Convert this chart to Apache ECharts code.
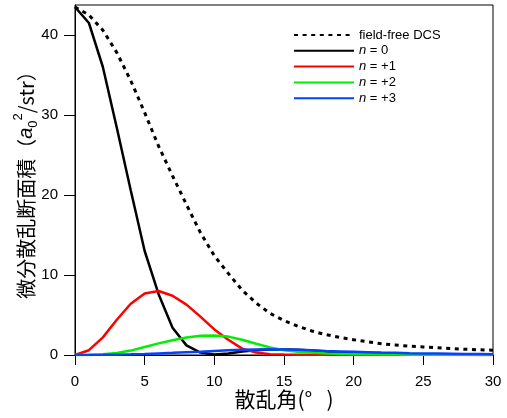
<!DOCTYPE html>
<html>
<head>
<meta charset="utf-8">
<script src="https://cdn.jsdelivr.net/npm/echarts@6/dist/echarts.min.js"></script>
<style>
html,body{margin:0;padding:0;background:#fff;}
#c{width:507px;height:418px;}
</style>
</head>
<body>
<div id="c"></div>
<script>
// Scattering angle (degrees)
const angles = [0,1,2,3,4,5,6,7,8,9,10,11,12,13,14,15,16,17,18,19,20,21,22,23,24,25,26,27,28,29,30];
// Differential cross sections (a0^2/str)
const fieldFree = [43.5,42.5,40.6,37.8,34.3,30.3,26.1,22.4,18.8,15.3,12.4,10.2,8.1,6.5,5.2,4.3,3.6,3.0,2.55,2.2,1.9,1.65,1.4,1.25,1.1,1.0,0.9,0.8,0.72,0.65,0.6];
const n0 = [43.5,41.5,36.0,28.4,20.6,13.0,7.6,3.4,1.2,0.3,0.05,0.2,0.45,0.6,0.7,0.7,0.65,0.55,0.45,0.35,0.25,0.2,0.15,0.1,0.08,0.05,0.04,0.03,0.02,0.01,0.0];
const n1 = [0.0,0.6,2.2,4.4,6.4,7.7,8.0,7.4,6.3,4.8,3.2,1.9,0.8,0.3,0.1,0.05,0.03,0.02,0.02,0.01,0.01,0.01,0.01,0.0,0.0,0.0,0.0,0.0,0.0,0.0,0.0];
const n2 = [0.0,0.02,0.1,0.25,0.55,1.0,1.45,1.85,2.2,2.4,2.45,2.3,1.9,1.4,0.95,0.6,0.4,0.3,0.2,0.15,0.1,0.08,0.06,0.05,0.04,0.03,0.03,0.02,0.02,0.02,0.02];
const n3 = [0.0,0.01,0.02,0.04,0.08,0.13,0.2,0.27,0.35,0.42,0.5,0.58,0.65,0.7,0.72,0.7,0.65,0.58,0.5,0.45,0.4,0.35,0.3,0.27,0.23,0.2,0.18,0.16,0.14,0.12,0.1];
const seriesNames = ['field-free DCS','n = 0','n = +1','n = +2','n = +3'];
const xTicks = [0,5,10,15,20,25,30];
const yTicks = [0,10,20,30,40];

const colors = ['#000000','#000000','#ff0000','#00ee00','#0044ff'];
const dataSets = [fieldFree,n0,n1,n2,n3];
const FONT = '"Liberation Sans", Arial, sans-serif';
const CJK = '"Noto Sans CJK JP", "Liberation Sans", sans-serif';

const series = dataSets.map((arr,i)=>({
  name: seriesNames[i],
  type: 'line',
  data: angles.map((a,j)=>[a,arr[j]]),
  symbol: 'none',
  smooth: false,
  silent: true,
  animation: false,
  lineStyle: {color: colors[i], width: i===0 ? 3 : 2.5, type: i===0 ? [4,4.6] : 'solid'},
  itemStyle: {color: colors[i]}
}));

const chart = echarts.init(document.getElementById('c'));
chart.setOption({
  animation: false,
  grid: {left: 75, right: 14, top: 5, bottom: 63, show: true, borderColor: '#000', borderWidth: 1, containLabel: false, outerBoundsMode: 'none'},
  legend: {
    orient: 'vertical', left: 293, top: 28.5, padding: 0,
    itemWidth: 60, itemHeight: 12, itemGap: 2.8,
    data: seriesNames,
    itemStyle: {opacity: 0},
    formatter: name => name.charAt(0)==='n' ? '{i|n}' + name.slice(1) : name,
    textStyle: {fontFamily: FONT, fontSize: 13, color: '#000', rich: {i: {fontFamily: FONT, fontSize: 13, fontStyle: 'italic', color:'#000'}}}
  },
  xAxis: {
    type: 'value', min: 0, max: 30, interval: 5,
    name: '散乱角(°   )', nameLocation: 'middle', nameGap: 34, nameMoveOverlap: false,
    nameTextStyle: {fontFamily: CJK, fontSize: 21, color: '#000', verticalAlign: 'top'},
    axisLine: {show: true, onZero: false, lineStyle: {color: '#000', width: 1}},
    axisTick: {show: true, inside: false, length: 10, lineStyle: {color: '#000', width: 1}, customValues: xTicks},
    axisLabel: {fontFamily: FONT, fontSize: 15, color: '#000', margin: 19, customValues: xTicks},
    splitLine: {show: false}
  },
  yAxis: {
    type: 'value', min: 0, max: 43.75,
    name: '微分散乱断面積（{a|a}{sub|0}{sup|2}/str）', nameLocation: 'middle', nameGap: 35, nameRotate: 90, nameMoveOverlap: false,
    nameTextStyle: {fontFamily: CJK, fontSize: 20, color: '#000', lineHeight: 28,
      rich: {
        a: {fontFamily: FONT, fontSize: 20, fontStyle: 'italic', color: '#000'},
        sub: {fontFamily: FONT, fontSize: 13, color: '#000', verticalAlign: 'bottom', lineHeight: 14},
        sup: {fontFamily: FONT, fontSize: 13, color: '#000', verticalAlign: 'top', lineHeight: 14}
      }},
    axisLine: {show: true, lineStyle: {color: '#000', width: 1}},
    axisTick: {show: true, inside: false, length: 11, lineStyle: {color: '#000', width: 1}, customValues: yTicks},
    axisLabel: {fontFamily: FONT, fontSize: 15, color: '#000', margin: 17, customValues: yTicks},
    splitLine: {show: false}
  },
  series: series
});
</script>
</body>
</html>
